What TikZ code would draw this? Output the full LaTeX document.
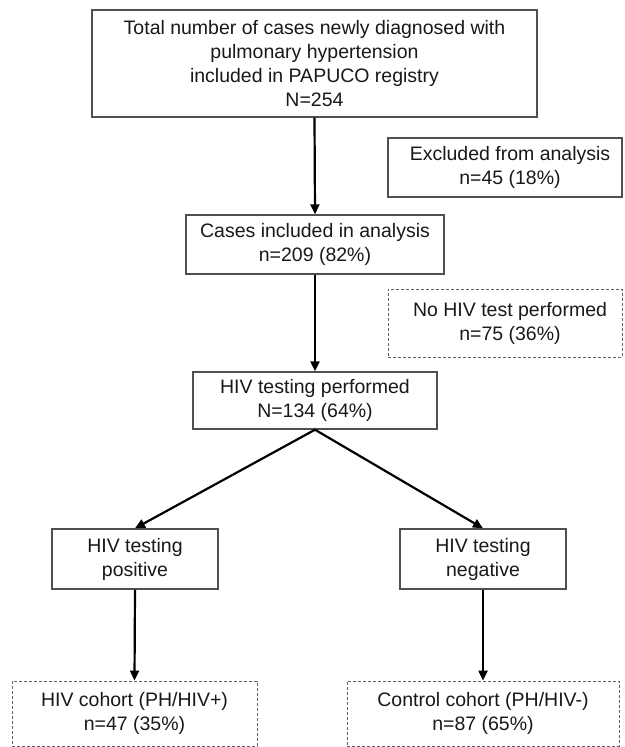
\documentclass[tikz,border=0pt]{standalone}
\usepackage{fontspec}
\setmainfont{Liberation Sans}
\usetikzlibrary{arrows.meta}
\definecolor{boxgray}{HTML}{505050}
\definecolor{dashgray}{HTML}{606060}
\tikzset{
  box/.style={draw=boxgray, line width=1.4pt, fill=white, inner sep=0pt, align=center,
    font=\fontsize{19.5}{24}\selectfont, text=black!90},
  dbox/.style={box, draw=dashgray, line width=0.9pt, dash pattern=on 3pt off 2pt},
  arr/.style={line width=2.2pt, -{Triangle[length=10pt,width=9pt]}}
}
\begin{document}
\begin{tikzpicture}[x=1pt,y=-1pt]
\useasboundingbox[fill=white] (0,0) rectangle (624,747);
\node[box, minimum width=445pt, minimum height=107pt] (total) at (314.5,63.5)
  {Total number of cases newly diagnosed with\\pulmonary hypertension\\included in PAPUCO registry\\N=254};
\node[box, minimum width=234pt, minimum height=59pt] (excl) at (505,167.5)
  {\hspace*{10pt}Excluded from analysis\\\hspace*{10pt}n=45 (18\%)};
\node[box, minimum width=258pt, minimum height=59pt] (cases) at (315,244.5)
  {Cases included in analysis\\n=209 (82\%)};
\node[dbox, minimum width=234pt, minimum height=68pt] (notest) at (505,323)
  {\hspace*{10pt}No HIV test performed\\\hspace*{10pt}n=75 (36\%)};
\node[box, minimum width=244pt, minimum height=57pt] (perf) at (315,400.5)
  {HIV testing performed\\N=134 (64\%)};
\node[box, minimum width=166pt, minimum height=60pt] (pos) at (135,559)
  {HIV testing\\positive};
\node[box, minimum width=166pt, minimum height=60pt] (neg) at (483,559)
  {HIV testing\\negative};
\node[dbox, minimum width=245pt, minimum height=65pt] (hivc) at (134.5,713.5)
  {HIV cohort (PH/HIV+)\\n=47 (35\%)};
\node[dbox, minimum width=272pt, minimum height=65pt] (ctrl) at (483,713.5)
  {Control cohort (PH/HIV-)\\n=87 (65\%)};
\draw[arr] (total.south) -- (cases.north);
\draw[arr] (cases.south) -- (perf.north);
\draw[arr] (perf.south) -- (pos.north);
\draw[arr] (perf.south) -- (neg.north);
\draw[arr] (pos.south) -- (hivc.north);
\draw[arr] (neg.south) -- (ctrl.north);
\end{tikzpicture}
\end{document}
